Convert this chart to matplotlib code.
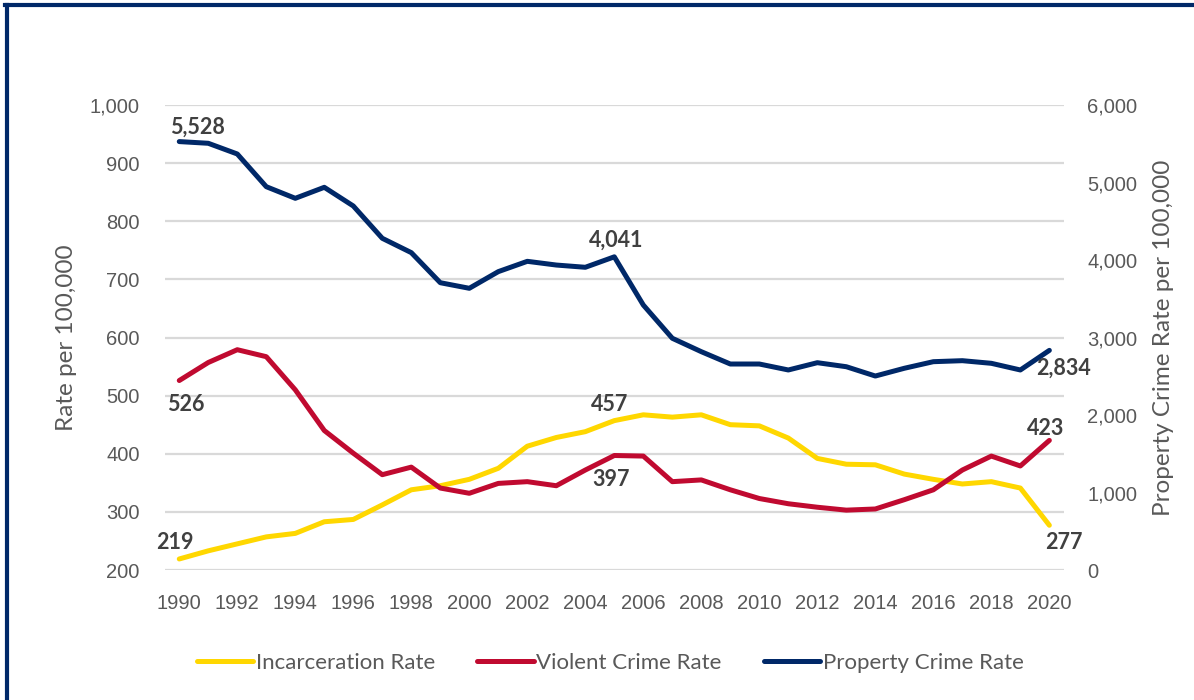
import matplotlib.pyplot as plt
from matplotlib.lines import Line2D
from matplotlib.ticker import FuncFormatter

years = list(range(1990, 2021))
incarceration = [219, 233, 245, 257, 263, 283, 287, 312, 338, 345, 356, 375, 413, 428, 438, 457,
                 467, 463, 467, 450, 448, 427, 392, 382, 381, 365, 356, 348, 352, 341, 277]
violent = [526, 557, 579, 567, 510, 440, 401, 364, 377, 341, 332, 349, 352, 345, 372, 397,
           396, 352, 355, 338, 323, 314, 308, 303, 305, 321, 338, 372, 396, 379, 423]
property_crime = [5528, 5506, 5368, 4946, 4796, 4938, 4697, 4280, 4095, 3707, 3635, 3850, 3983,
                  3935, 3906, 4041, 3419, 2990, 2817, 2658, 2658, 2581, 2675, 2623, 2503, 2603,
                  2688, 2701, 2667, 2581, 2834]

YELLOW = '#FFD700'
RED = '#C00A30'
NAVY = '#002868'
GRAY = '#595959'
DARK = '#404040'

fig = plt.figure(figsize=(11.94, 7.0), dpi=100)
ax = fig.add_axes([0.138, 0.1857, 0.753, 0.6643])
ax2 = ax.twinx()

l1, = ax.plot(years, incarceration, color=YELLOW, lw=3.6, solid_capstyle='round', label='Incarceration Rate')
l2, = ax.plot(years, violent, color=RED, lw=3.6, solid_capstyle='round', label='Violent Crime Rate')
l3, = ax2.plot(years, property_crime, color=NAVY, lw=3.6, solid_capstyle='round', label='Property Crime Rate')

ax.set_xlim(1989.5, 2020.5)
ax.set_ylim(200, 1000)
ax2.set_ylim(0, 6000)
ax.set_yticks(range(200, 1001, 100))
ax2.set_yticks(range(0, 6001, 1000))
ax.set_xticks(range(1990, 2021, 2))
fmt = FuncFormatter(lambda v, p: f'{int(v):,}')
ax.yaxis.set_major_formatter(fmt)
ax2.yaxis.set_major_formatter(fmt)

ax.grid(axis='y', color='#D9D9D9', lw=1.6)
ax.set_axisbelow(True)
for a in (ax, ax2):
    for s in a.spines.values():
        s.set_visible(False)
    a.tick_params(length=0, labelsize=14.5, labelcolor=GRAY)
    for t in a.get_xticklabels() + a.get_yticklabels():
        t.set_family('Liberation Sans')
ax.tick_params(axis='y', pad=18)
ax2.tick_params(axis='y', pad=17)
ax.tick_params(axis='x', pad=17)

ax.set_ylabel('Rate per 100,000', fontsize=17.5, color=GRAY, family='Lato', labelpad=9)
ax2.set_ylabel('Property Crime Rate per 100,000', fontsize=17.5, color=GRAY, family='Lato', labelpad=11)

def label(a, x, y, text, dx, dy):
    a.annotate(text, (x, y), xytext=(dx, dy), textcoords='offset pixels', ha='center', va='center',
               fontsize=15.5, fontweight='bold', color=DARK, family='Lato')

label(ax2, 1990, property_crime[0], '5,528', 18, 14)
label(ax2, 2005, property_crime[15], '4,041', 2, 17)
label(ax2, 2020, property_crime[30], '2,834', 14, -18)
label(ax, 1990, violent[0], '526', 7, -24)
label(ax, 2005, violent[15], '397', -3, -24)
label(ax, 2020, violent[30], '423', -4, 12)
label(ax, 1990, incarceration[0], '219', -4, 16)
label(ax, 2005, incarceration[15], '457', -5, 16)
label(ax, 2020, incarceration[30], '277', 15, -17)

fig.legend(handles=[l1, l2, l3], loc='center', bbox_to_anchor=(0.511, 0.053), ncol=3, frameon=False,
           prop={'family': 'Lato', 'size': 16}, labelcolor=GRAY, handlelength=2.55,
           handletextpad=0.1, columnspacing=1.9)

# frame
fig.add_artist(Line2D([0.0055, 0.0055], [0, 0.993], color=NAVY, lw=3, transform=fig.transFigure))
fig.add_artist(Line2D([0.0045, 1], [0.993, 0.993], color=NAVY, lw=3, transform=fig.transFigure))

fig.savefig('out.png', dpi=100)
